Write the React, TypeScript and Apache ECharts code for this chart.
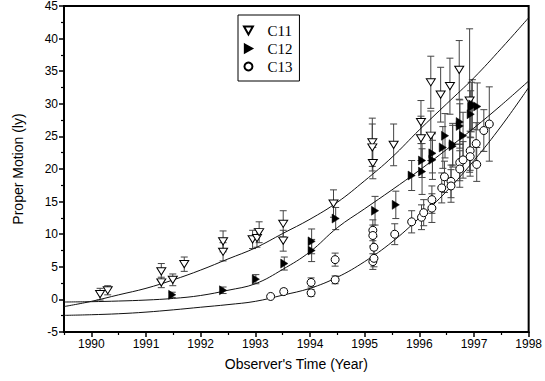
import React, { useEffect, useRef } from "react";
import * as echarts from "echarts";

// ---- Data ----
const c11Years = [1990.16, 1990.30, 1991.28, 1991.28, 1991.49, 1991.70, 1992.41, 1992.41, 1992.95, 1993.03, 1993.07, 1993.51, 1993.51, 1994.43, 1995.14, 1995.14, 1995.15, 1995.53, 1996.03, 1996.03, 1996.21, 1996.21, 1996.39, 1996.56, 1996.73, 1996.92];
const c11Values = [0.8, 1.4, 4.3, 2.6, 3.0, 5.4, 8.9, 7.3, 9.2, 9.4, 10.3, 11.6, 9.0, 14.7, 24.1, 23.3, 20.9, 23.7, 27.2, 24.7, 33.3, 25.1, 31.4, 32.7, 35.2, 30.5];
const c11Errors = [0.9, 0.7, 1.2, 0.8, 0.9, 1.1, 1.6, 1.4, 1.4, 1.4, 1.6, 2.0, 1.6, 2.1, 3.7, 3.6, 2.4, 3.2, 3.3, 3.4, 4.0, 3.8, 4.2, 4.3, 4.5, 11.0];

const c12Years = [1991.48, 1992.41, 1993.01, 1993.53, 1994.03, 1994.03, 1994.47, 1995.19, 1995.57, 1995.86, 1996.05, 1996.05, 1996.24, 1996.24, 1996.43, 1996.47, 1996.61, 1996.61, 1996.74, 1996.74, 1996.80, 1996.94, 1996.95, 1996.97, 1997.06];
const c12Values = [0.7, 1.4, 3.1, 5.5, 8.9, 7.5, 12.4, 13.6, 14.5, 19.0, 21.3, 19.6, 22.4, 21.4, 23.3, 25.1, 23.8, 23.5, 27.2, 26.6, 25.1, 28.4, 29.5, 29.9, 29.6];
const c12Errors = [0.4, 0.5, 0.7, 1.0, 1.9, 1.7, 1.7, 2.2, 2.1, 2.3, 2.6, 3.5, 3.0, 3.0, 3.2, 3.4, 3.2, 3.2, 3.4, 3.4, 3.6, 3.6, 3.8, 3.8, 3.6];

const c13Years = [1993.28, 1993.52, 1994.02, 1994.02, 1994.46, 1994.46, 1995.15, 1995.15, 1995.17, 1995.15, 1995.17, 1995.55, 1995.86, 1996.04, 1996.08, 1996.23, 1996.23, 1996.41, 1996.46, 1996.58, 1996.58, 1996.74, 1996.74, 1996.80, 1996.93, 1996.93, 1997.04, 1997.05, 1997.18, 1997.28];
const c13Values = [0.45, 1.2, 1.0, 2.6, 6.1, 3.0, 10.6, 9.8, 8.0, 5.8, 6.3, 10.0, 11.9, 12.6, 13.3, 15.3, 14.0, 17.1, 18.8, 18.1, 17.4, 21.0, 20.0, 21.4, 22.8, 21.9, 23.9, 20.7, 25.9, 26.9];
const c13Errors = [0.3, 0.4, 0.5, 0.7, 1.0, 0.6, 1.6, 1.6, 1.6, 1.2, 1.3, 1.6, 1.7, 1.9, 2.0, 2.1, 2.2, 2.3, 2.4, 2.5, 2.5, 2.8, 2.8, 2.8, 3.0, 3.0, 3.2, 2.6, 3.2, 5.7];

// Fitted curves, read at half-year steps
const fitYears = [1989.5, 1990, 1990.5, 1991, 1991.5, 1992, 1992.5, 1993, 1993.5, 1994, 1994.5, 1995, 1995.5, 1996, 1996.5, 1997, 1997.5, 1998];
const fitC11 = [-1.1, -0.3, 0.7, 1.7, 3.0, 4.5, 6.2, 7.9, 10.1, 12.3, 14.9, 18.2, 21.8, 26.0, 30.0, 34.0, 38.5, 43.2];
const fitC12 = [-0.4, -0.35, -0.25, -0.1, 0.15, 0.6, 1.4, 2.4, 4.6, 7.3, 11.0, 13.9, 16.8, 19.8, 23.0, 26.3, 29.8, 33.5];
const fitC13 = [-2.45, -2.35, -2.2, -1.95, -1.6, -1.2, -0.8, -0.3, 0.65, 1.7, 3.4, 5.8, 8.8, 12.5, 16.6, 21.3, 26.6, 32.5];

const majorYears = [1990, 1991, 1992, 1993, 1994, 1995, 1996, 1997, 1998];
const minorYears = [1989.5, 1990.5, 1991.5, 1992.5, 1993.5, 1994.5, 1995.5, 1996.5, 1997.5];

const SANS = "'Liberation Sans', Arial, Helvetica, sans-serif";
const SERIF = "'Liberation Serif', 'Times New Roman', serif";

const zip2 = (a: number[], b: number[]) => a.map((v, i) => [v, b[i]]);
const zip3 = (a: number[], b: number[], c: number[]) => a.map((v, i) => [v, b[i], c[i]]);

const errRender = (params: any, api: any) => {
  const x = api.value(0);
  const y = api.value(1);
  const e = api.value(2);
  const top = api.coord([x, y + e]);
  const bot = api.coord([x, y - e]);
  const hw = 3.5;
  const style = { stroke: "#444", lineWidth: 1 };
  return {
    type: "group",
    children: [
      { type: "line", shape: { x1: top[0], y1: top[1], x2: bot[0], y2: bot[1] }, style },
      { type: "line", shape: { x1: top[0] - hw, y1: top[1], x2: top[0] + hw, y2: top[1] }, style },
      { type: "line", shape: { x1: bot[0] - hw, y1: bot[1], x2: bot[0] + hw, y2: bot[1] }, style },
    ],
  };
};

const errSeries = (name: string, ys: number[], vs: number[], es: number[]) => ({
  type: "custom",
  name: name + "-err",
  renderItem: errRender,
  data: zip3(ys, vs, es),
  encode: { x: 0, y: 1 },
  z: 2,
  silent: true,
});

const fitSeries = (name: string, vals: number[]) => ({
  type: "line",
  name,
  data: zip2(fitYears, vals),
  smooth: 0.4,
  showSymbol: false,
  symbol: "none",
  lineStyle: { color: "#111", width: 1 },
  z: 3,
  silent: true,
});

export default function App() {
  const ref = useRef<HTMLDivElement>(null);
  useEffect(() => {
    if (!ref.current) return;
    const chart = echarts.init(ref.current, null, { renderer: "svg" });
    chart.setOption({
      animation: false,
      backgroundColor: "#fff",
      grid: { left: 64, right: 14, top: 5, bottom: 49, show: true, borderColor: "#000", borderWidth: 2, backgroundColor: "transparent" },
      legend: {
        data: ["C11", "C12", "C13"],
        orient: "vertical",
        left: 238,
        top: 15,
        padding: [8, 7, 7, 5],
        itemWidth: 22,
        itemHeight: 8,
        itemGap: 3,
        borderColor: "#000",
        borderWidth: 1,
        selectedMode: false,
        backgroundColor: "#fff",
        textStyle: { fontFamily: SERIF, fontSize: 15, color: "#000", padding: [0, 0, 0, 3] },
      },
      xAxis: [
        {
          type: "value",
          min: 1989.5,
          max: 1998,
          position: "bottom",
          name: "Observer's Time (Year)",
          nameLocation: "middle",
          nameGap: 25,
          nameTextStyle: { fontFamily: SANS, fontSize: 14, color: "#000" },
          axisLine: { show: true, onZero: false, lineStyle: { color: "#000", width: 2 } },
          axisTick: { show: true, customValues: majorYears, length: 5, lineStyle: { color: "#000", width: 1.5 } },
          axisLabel: { customValues: majorYears, color: "#000", fontFamily: SANS, fontSize: 12, margin: 6, formatter: (v: number) => String(Math.round(v)) },
          splitLine: { show: false },
        },
        {
          type: "value",
          min: 1989.5,
          max: 1998,
          position: "bottom",
          offset: 0,
          axisLine: { show: false, onZero: false },
          axisTick: { show: true, customValues: minorYears, length: 3, lineStyle: { color: "#000", width: 1.2 } },
          axisLabel: { show: false },
          splitLine: { show: false },
        },
      ],
      yAxis: {
        type: "value",
        min: -5,
        max: 45,
        interval: 5,
        name: "Proper Motion (ly)",
        nameLocation: "middle",
        nameGap: 39,
        nameTextStyle: { fontFamily: SANS, fontSize: 14, color: "#000" },
        axisLine: { show: true, onZero: false, lineStyle: { color: "#000", width: 2 } },
        axisTick: { show: true, length: 5, lineStyle: { color: "#000", width: 1.5 } },
        minorTick: { show: true, splitNumber: 2, length: 3, lineStyle: { color: "#000", width: 1.2 } },
        axisLabel: { color: "#000", fontFamily: SANS, fontSize: 12, margin: 6 },
        splitLine: { show: false },
      },
      series: [
        fitSeries("fit11", fitC11),
        fitSeries("fit12", fitC12),
        fitSeries("fit13", fitC13),
        errSeries("C11", c11Years, c11Values, c11Errors),
        errSeries("C12", c12Years, c12Values, c12Errors),
        errSeries("C13", c13Years, c13Values, c13Errors),
        {
          type: "scatter",
          name: "C11",
          data: zip2(c11Years, c11Values),
          symbol: "path://M0,0L10,0L5,9Z",
          symbolSize: [9, 8],
          symbolKeepAspect: true,
          itemStyle: { color: "#fff", borderColor: "#000", borderWidth: 1, opacity: 1 },
          z: 5,
        },
        {
          type: "scatter",
          name: "C12",
          data: zip2(c12Years, c12Values),
          symbol: "path://M0,0L9,5L0,10Z",
          symbolSize: [8, 9],
          symbolKeepAspect: true,
          itemStyle: { color: "#000", borderColor: "#000", borderWidth: 0.5, opacity: 1 },
          z: 5,
        },
        {
          type: "scatter",
          name: "C13",
          data: zip2(c13Years, c13Values),
          symbol: "circle",
          symbolSize: 8,
          itemStyle: { color: "#fff", borderColor: "#000", borderWidth: 1, opacity: 1 },
          z: 5,
        },
      ],
    });
    return () => chart.dispose();
  }, []);
  return <div ref={ref} style={{ position: "absolute", left: 0, top: 0, width: 545, height: 381 }} />;
}
